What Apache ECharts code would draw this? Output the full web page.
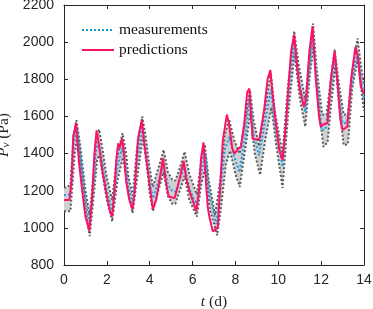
<!DOCTYPE html>
<html><head><meta charset="utf-8">
<script src="https://cdn.jsdelivr.net/npm/echarts@6/dist/echarts.min.js"></script>
<style>html,body{margin:0;padding:0;background:#fff}#c{width:373px;height:309px}</style>
</head><body><div id="c"></div>
<script>
// ---- data (t in days, values in Pa) ----
const xTicks = [0, 2, 4, 6, 8, 10, 12, 14];
const yTicks = [800, 1000, 1200, 1400, 1600, 1800, 2000, 2200];

const predT = [0,0.25,0.35,0.43,0.47,0.56,0.7,0.85,1.0,1.18,1.3,1.42,1.52,1.6,1.67,1.8,2.0,2.15,2.25,2.35,2.45,2.53,2.6,2.7,2.78,2.9,3.05,3.2,3.3,3.45,3.63,3.75,3.92,4.05,4.15,4.3,4.45,4.62,4.75,4.88,5.0,5.16,5.3,5.45,5.58,5.7,5.85,6.0,6.17,6.3,6.4,6.51,6.57,6.64,6.71,6.8,6.95,7.18,7.3,7.41,7.6,7.7,7.85,7.95,8.1,8.26,8.4,8.55,8.65,8.72,8.8,8.95,9.12,9.25,9.35,9.5,9.63,9.75,9.9,10.05,10.2,10.35,10.5,10.6,10.74,10.85,11.0,11.2,11.3,11.45,11.6,11.75,11.9,11.98,12.15,12.3,12.45,12.63,12.75,12.9,13.0,13.22,13.4,13.6,13.7,13.85,14.0];
const predV = [1150,1150,1250,1490,1500,1565,1350,1200,1060,985,1150,1400,1525,1470,1460,1300,1170,1090,1060,1200,1380,1455,1430,1480,1420,1250,1150,1100,1200,1480,1580,1450,1300,1180,1100,1150,1250,1375,1250,1170,1165,1160,1220,1290,1360,1270,1200,1150,1090,1200,1380,1460,1350,1220,1110,1050,980,1005,1250,1470,1610,1560,1430,1400,1420,1440,1550,1730,1750,1620,1480,1475,1480,1570,1645,1800,1850,1700,1550,1420,1365,1550,1800,1950,2040,1900,1750,1650,1700,1950,2085,1800,1600,1545,1560,1565,1800,1950,1800,1580,1527,1545,1800,1975,1930,1760,1720];

const measT = [0,0.3,0.45,0.6,0.75,1.0,1.2,1.35,1.5,1.62,1.8,2.0,2.25,2.45,2.7,2.85,3.0,3.2,3.4,3.65,3.8,4.0,4.15,4.4,4.65,4.85,5.05,5.2,5.4,5.63,5.85,6.2,6.4,6.6,6.75,7.1,7.3,7.5,7.72,7.95,8.19,8.45,8.68,8.85,9.1,9.35,9.66,9.85,10.2,10.45,10.74,10.95,11.26,11.45,11.62,11.8,12.0,12.2,12.4,12.65,12.8,13.0,13.2,13.45,13.7,13.85,14.0];
const measV = [1175,1180,1450,1540,1400,1150,1020,1200,1420,1460,1350,1200,1095,1300,1430,1350,1220,1135,1350,1545,1420,1250,1160,1250,1340,1230,1200,1195,1260,1330,1210,1120,1300,1400,1200,1020,1200,1420,1490,1380,1300,1500,1715,1500,1390,1550,1745,1550,1330,1700,2000,1800,1625,1850,2040,1800,1530,1530,1700,1920,1750,1565,1565,1800,1940,1800,1700];

const upT = [0,0.3,0.45,0.58,0.75,1.0,1.2,1.35,1.5,1.64,1.8,2.0,2.25,2.45,2.73,2.9,3.0,3.2,3.4,3.65,3.8,4.0,4.15,4.4,4.65,4.85,5.05,5.2,5.4,5.63,5.85,6.2,6.4,6.57,6.75,7.05,7.3,7.5,7.7,7.95,8.2,8.45,8.68,8.85,9.1,9.35,9.65,9.85,10.2,10.45,10.74,10.95,11.26,11.45,11.62,11.8,12.05,12.25,12.4,12.63,12.8,13.05,13.25,13.45,13.7,13.85,14.0];
const upV = [1215,1230,1500,1580,1450,1200,1070,1250,1480,1530,1420,1270,1150,1360,1510,1400,1280,1175,1420,1600,1500,1320,1220,1320,1420,1300,1260,1255,1320,1410,1290,1180,1360,1450,1260,1070,1260,1500,1585,1470,1400,1580,1740,1580,1440,1620,1835,1620,1400,1760,2060,1880,1690,1900,2100,1850,1610,1610,1750,1960,1800,1610,1610,1850,2020,1880,1770];

const loT = [0,0.3,0.5,0.62,0.8,1.0,1.2,1.35,1.55,1.65,1.85,2.0,2.25,2.5,2.75,2.9,3.05,3.2,3.45,3.68,3.85,4.0,4.15,4.4,4.65,4.85,5.05,5.2,5.4,5.63,5.85,6.2,6.4,6.6,6.8,7.15,7.35,7.55,7.75,8.0,8.2,8.45,8.7,8.9,9.15,9.4,9.68,9.9,10.2,10.45,10.76,11.0,11.26,11.45,11.65,11.85,12.1,12.3,12.45,12.67,12.85,13.05,13.25,13.45,13.72,13.9,14.0];
const loV = [1090,1090,1400,1490,1300,1100,955,1130,1370,1390,1250,1150,1035,1260,1380,1280,1160,1080,1300,1490,1350,1190,1090,1200,1300,1170,1130,1130,1200,1280,1150,1060,1230,1330,1100,960,1130,1340,1415,1290,1220,1420,1620,1400,1285,1480,1650,1450,1215,1600,1940,1700,1545,1800,1980,1700,1437,1460,1650,1880,1650,1446,1450,1750,1920,1720,1630];

const zip = (a, b) => a.map((t, i) => [t, b[i]]);
const pred = zip(predT, predV), meas = zip(measT, measV), up = zip(upT, upV), lo = zip(loT, loV);

const AX = '#262626';
const chart = echarts.init(document.getElementById('c'), null, {renderer: 'canvas'});
const tickLabel = {color: AX, fontFamily: 'Liberation Sans', fontSize: 14, formatter: v => String(v)};
chart.setOption({
  animation: false,
  grid: {left: 64, right: 9, top: 5, bottom: 44, containLabel: false, outerBoundsMode: 'none'},
  legend: {
    data: ['measurements', 'predictions'],
    orient: 'vertical', left: 76, top: 17, itemGap: 4, itemWidth: 32, itemHeight: 14,
    itemStyle: {opacity: 0},
    textStyle: {fontFamily: 'Liberation Serif', fontSize: 15.5, color: '#111'}
  },
  xAxis: [{
    type: 'value', min: 0, max: 14, interval: 2,
    name: '{i|t} (d)', nameLocation: 'middle', nameGap: 29,
    nameTextStyle: {fontFamily: 'Liberation Serif', fontSize: 15.5, color: AX, rich: {i: {fontStyle: 'italic', fontFamily: 'Liberation Serif', fontSize: 15.5, color: AX}}},
    axisLine: {show: true, lineStyle: {color: AX, width: 1}},
    axisTick: {show: true, inside: true, length: 4, lineStyle: {color: AX}},
    axisLabel: Object.assign({margin: 8}, tickLabel),
    splitLine: {show: false}
  }, {
    type: 'value', min: 0, max: 14, interval: 2, position: 'top',
    axisLine: {show: true, onZero: false, lineStyle: {color: AX, width: 1}},
    axisTick: {show: true, inside: true, length: 4, lineStyle: {color: AX}},
    axisLabel: {show: false}, splitLine: {show: false}
  }],
  yAxis: [{
    type: 'value', min: 800, max: 2200, interval: 200,
    name: '{i|P}{s|v} (Pa)', nameLocation: 'middle', nameGap: 51, nameRotate: 90,
    nameTextStyle: {fontFamily: 'Liberation Serif', fontSize: 15.5, color: AX,
      rich: {i: {fontStyle: 'italic', fontFamily: 'Liberation Serif', fontSize: 15.5, color: AX},
             s: {fontStyle: 'italic', fontFamily: 'Liberation Serif', fontSize: 11, color: AX, padding: [0, 0, -6, 0]}}},
    axisLine: {show: true, lineStyle: {color: AX, width: 1}},
    axisTick: {show: true, inside: true, length: 4, lineStyle: {color: AX}},
    axisLabel: Object.assign({margin: 10}, tickLabel),
    splitLine: {show: false}
  }, {
    type: 'value', min: 800, max: 2200, interval: 200, position: 'right',
    axisLine: {show: true, onZero: false, lineStyle: {color: AX, width: 1}},
    axisTick: {show: true, inside: true, length: 4, lineStyle: {color: AX}},
    axisLabel: {show: false}, splitLine: {show: false}
  }],
  series: [
    {
      name: 'band', type: 'custom', xAxisIndex: 0, yAxisIndex: 0, silent: true, z: 1,
      data: [[0, 800]],
      renderItem: function (params, api) {
        const pts = [];
        up.forEach(p => pts.push(api.coord(p)));
        for (let i = lo.length - 1; i >= 0; i--) pts.push(api.coord(lo[i]));
        return {type: 'polygon', shape: {points: pts}, style: {fill: '#d0d0d0', stroke: null}};
      }
    },
    {name: 'upper', type: 'line', data: up, symbol: 'none', z: 2, silent: true,
     lineStyle: {color: '#5a5a5a', width: 2, type: 'dotted'}},
    {name: 'lower', type: 'line', data: lo, symbol: 'none', z: 2, silent: true,
     lineStyle: {color: '#5a5a5a', width: 2, type: 'dotted'}},
    {name: 'measurements', type: 'line', data: meas, symbol: 'none', z: 3,
     lineStyle: {color: '#1c9be6', width: 2, type: 'dotted'}, itemStyle: {color: '#1c9be6'}},
    {name: 'predictions', type: 'line', data: pred, symbol: 'none', z: 4,
     lineStyle: {color: '#fc1268', width: 2}, itemStyle: {color: '#fc1268'}}
  ]
});
</script></body></html>
